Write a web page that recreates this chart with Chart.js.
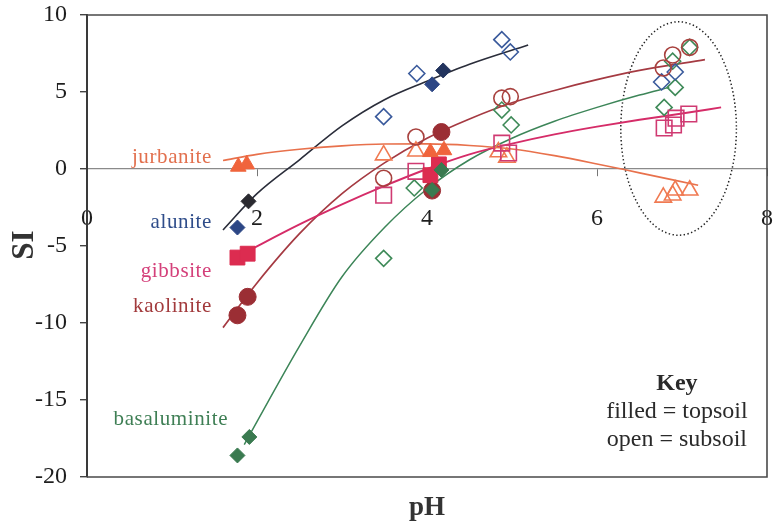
<!DOCTYPE html>
<html>
<head>
<meta charset="utf-8">
<script src="https://cdn.jsdelivr.net/npm/chart.js@4/dist/chart.umd.min.js"></script>
<style>
  html, body { margin: 0; padding: 0; background: #ffffff; }
  #wrap { width: 773px; height: 527px; position: relative; }
</style>
</head>
<body>
<div id="wrap"><canvas id="c"></canvas></div>
<script>
// Axis ticks
const xTicks = [0, 2, 4, 6, 8];
const yTicks = [-20, -15, -10, -5, 0, 5, 10];

// Saturation indices [pH, SI]; "Top" = topsoil (filled), "Sub" = subsoil (open)
const aluniteTop = [[1.77, -3.8], [1.90, -2.1], [4.06, 5.5], [4.19, 6.4]];
const aluniteSub = [[3.49, 3.4], [3.88, 6.2], [4.88, 8.4], [4.98, 7.6], [6.76, 5.65], [6.92, 6.3]];
const aluniteFit = [[1.6, -3.96], [2.0, -1.6], [2.5, 0.6], [3.0, 2.8], [3.5, 4.5], [4.0, 5.7], [4.5, 6.8], [5.19, 8.05]];

const jurbaniteTop = [[1.78, 0.15], [1.88, 0.3], [4.04, 1.1], [4.2, 1.22]];
const jurbaniteSub = [[3.49, 0.9], [3.87, 1.15], [4.84, 1.1], [4.94, 0.75], [6.78, -1.84], [6.89, -1.7], [6.92, -1.38], [7.09, -1.38]];
const jurbaniteFit = [[1.6, 0.55], [2.0, 0.95], [2.5, 1.28], [3.0, 1.5], [3.5, 1.62], [4.0, 1.63], [4.5, 1.53], [5.0, 1.3], [5.5, 0.87], [6.0, 0.33], [6.5, -0.25], [7.19, -1.05]];

const gibbsiteTop = [[1.77, -5.75], [1.89, -5.5], [4.04, -0.4], [4.14, 0.3]];
const gibbsiteSub = [[3.49, -1.7], [3.87, -0.15], [4.88, 1.68], [4.96, 1.04], [6.79, 2.66], [6.9, 2.86], [6.93, 3.3], [7.08, 3.57]];
const gibbsiteFit = [[1.85, -5.45], [2.5, -3.6], [3.0, -2.3], [3.5, -1.1], [4.0, 0.0], [4.5, 0.95], [5.0, 1.65], [5.5, 2.25], [6.0, 2.75], [6.5, 3.2], [7.0, 3.6], [7.46, 4.0]];

const kaoliniteTop = [[1.77, -9.5], [1.89, -8.3], [4.06, -1.4], [4.17, 2.4]];
const kaoliniteSub = [[3.49, -0.6], [3.87, 2.08], [4.88, 4.6], [4.98, 4.7], [6.78, 6.56], [6.89, 7.4], [7.09, 7.9]];
const kaoliniteFit = [[1.6, -10.3], [2.0, -7.4], [2.5, -4.2], [3.0, -1.6], [3.5, 0.4], [4.0, 2.0], [4.5, 3.25], [5.0, 4.3], [5.5, 5.1], [6.0, 5.8], [6.5, 6.4], [7.27, 7.1]];

const basaluminiteTop = [[1.77, -18.6], [1.91, -17.4], [4.06, -1.36], [4.17, -0.06]];
const basaluminiteSub = [[3.49, -5.8], [3.85, -1.23], [4.88, 3.83], [4.99, 2.86], [6.79, 4.0], [6.92, 5.3], [6.89, 7.0], [7.09, 7.9]];
const basaluminiteFit = [[1.85, -17.9], [2.0, -16.4], [2.5, -11.5], [3.0, -7.0], [3.5, -3.8], [4.0, -1.3], [4.5, 0.6], [5.0, 2.0], [5.5, 3.1], [6.0, 4.0], [6.5, 4.8], [6.85, 5.3]];

// Mineral names written beside the curves, with their anchor [pH, SI]
const mineralNames = ['jurbanite', 'alunite', 'gibbsite', 'kaolinite', 'basaluminite'];
const nameAnchors = [[1.47, 0.39], [1.47, -3.83], [1.47, -7.0], [1.47, -9.3], [1.66, -16.6]];
const nameColors = ['#e2704e', '#2f4d8a', '#d4407a', '#a23a3c', '#3f7f55'];

const keyLines = ['Key', 'filled = topsoil', 'open = subsoil'];

const SERIF = "'Liberation Serif', 'Times New Roman', serif";
Chart.defaults.font.family = SERIF;

// Sample markers are allowed to overhang the frame, so they should not widen the layout margins
Chart.ScatterController.prototype.getMaxOverflow = function () { return 2; };

const pts = arr => arr.map(([x, y]) => ({ x, y }));

function fitLine(data, color, width) {
  return {
    type: 'line', data: pts(data), borderColor: color, borderWidth: width,
    pointRadius: 0, fill: false, cubicInterpolationMode: 'monotone', order: 10
  };
}
function filled(data, style, color, radius, order) {
  return {
    type: 'scatter', data: pts(data), pointStyle: style, pointRadius: radius,
    pointBackgroundColor: color, pointBorderColor: color, pointBorderWidth: 1, order
  };
}
function open(data, style, color, radius, order) {
  return {
    type: 'scatter', data: pts(data), pointStyle: style, pointRadius: radius,
    pointBackgroundColor: 'rgba(255,255,255,0)', pointBorderColor: color, pointBorderWidth: 1.6, order
  };
}

const datasets = [
  fitLine(jurbaniteFit, '#e8714c', 1.6),
  fitLine(gibbsiteFit, '#d52c68', 1.9),
  fitLine(kaoliniteFit, '#a53a42', 1.7),
  fitLine(basaluminiteFit, '#3c8558', 1.5),
  fitLine(aluniteFit, '#2a2d3a', 1.6),

  open(kaoliniteSub, 'circle', '#a8413e', 8, 6),
  open(gibbsiteSub, 'rect', '#d03a72', 11, 6),
  open(jurbaniteSub, 'triangle', '#f07a52', 9.5, 6),
  open(aluniteSub, 'rectRot', '#3a5a9c', 8, 6),
  open(basaluminiteSub, 'rectRot', '#3e8a58', 8, 6),

  filled(kaoliniteTop, 'circle', '#9b2e34', 8.5, 5),
  filled(aluniteTop, 'rectRot', ['#2c4685', '#2a2a30', '#2c4685', '#23345e'], 7.5, 4),
  filled(gibbsiteTop, 'rect', '#dc2c50', 10.5, 3),
  filled(jurbaniteTop, 'triangle', '#f0643c', 9, 2),
  filled(basaluminiteTop, 'rectRot', '#3a7a50', 7.5, 1)
];

// Frame, dotted ellipse round the high-pH samples, and text annotations
const decorations = {
  id: 'decorations',
  beforeDatasetsDraw(chart) {
    const { ctx, chartArea: a, scales: { x, y } } = chart;
    ctx.save();
    // plot frame (top, right, bottom)
    ctx.strokeStyle = '#4a4a4a';
    ctx.lineWidth = 1.6;
    ctx.beginPath();
    ctx.moveTo(a.left, a.top); ctx.lineTo(a.right, a.top);
    ctx.lineTo(a.right, a.bottom); ctx.lineTo(a.left, a.bottom);
    ctx.stroke();
    // dotted ellipse
    const cx = x.getPixelForValue(6.96), cy = y.getPixelForValue(2.63);
    const rx = x.getPixelForValue(6.96 + 0.68) - cx;
    const ry = cy - y.getPixelForValue(2.63 + 6.93);
    ctx.setLineDash([1.4, 2.4]);
    ctx.strokeStyle = '#222';
    ctx.lineWidth = 1.5;
    ctx.beginPath();
    ctx.ellipse(cx, cy, rx, ry, 0, 0, Math.PI * 2);
    ctx.stroke();
    ctx.restore();
  },
  afterDraw(chart) {
    const { ctx, chartArea: a, scales: { x, y } } = chart;
    ctx.save();
    ctx.fillStyle = '#333';
    // axis titles
    ctx.font = `bold 27px ${SERIF}`;
    ctx.textAlign = 'center';
    ctx.textBaseline = 'alphabetic';
    ctx.fillText('pH', (a.left + a.right) / 2, 515);
    ctx.save();
    ctx.translate(33, 245);
    ctx.rotate(-Math.PI / 2);
    ctx.font = `bold 31px ${SERIF}`;
    ctx.fillText('SI', 0, 0);
    ctx.restore();
    // mineral names
    ctx.font = `21px ${SERIF}`;
    ctx.textAlign = 'right';
    if ('letterSpacing' in ctx) ctx.letterSpacing = '0.6px';
    mineralNames.forEach((name, i) => {
      ctx.fillStyle = nameColors[i];
      ctx.fillText(name, x.getPixelForValue(nameAnchors[i][0]), y.getPixelForValue(nameAnchors[i][1]));
    });
    if ('letterSpacing' in ctx) ctx.letterSpacing = '0px';
    // key
    ctx.textAlign = 'center';
    ctx.fillStyle = '#2a2a2a';
    const kx = x.getPixelForValue(6.94);
    ctx.font = `bold 24px ${SERIF}`;
    ctx.fillText(keyLines[0], kx, 390);
    ctx.font = `24px ${SERIF}`;
    ctx.fillText(keyLines[1], kx, 418);
    ctx.fillText(keyLines[2], kx, 446);
    ctx.restore();
  }
};

new Chart(document.getElementById('c'), {
  data: { datasets },
  options: {
    responsive: true,
    maintainAspectRatio: false,
    animation: false,
    layout: { padding: { left: 0, top: 15, right: 6, bottom: 50 } },
    plugins: { legend: { display: false }, tooltip: { enabled: false } },
    scales: {
      x: {
        type: 'linear', min: 0, max: 8,
        position: { y: 0 },
        afterBuildTicks: s => { s.ticks = xTicks.map(v => ({ value: v })); },
        afterFit: s => { s.paddingLeft = 0; s.paddingRight = 0; s.paddingTop = 0; s.paddingBottom = 0; },
        border: { display: true, color: '#8a8a8a', width: 1.2 },
        grid: { drawOnChartArea: false, drawTicks: true, tickLength: 7, color: '#777', lineWidth: 1 },
        ticks: { font: { size: 24, family: SERIF }, color: '#1e1e1e', padding: 28, maxRotation: 0 }
      },
      y: {
        type: 'linear', min: -20, max: 10,
        position: 'left',
        afterBuildTicks: s => { s.ticks = yTicks.map(v => ({ value: v })); },
        afterFit: s => { s.width = 87; s.paddingTop = 0; s.paddingBottom = 0; s.paddingLeft = 0; s.paddingRight = 0; },
        border: { display: true, color: '#3a3a3a', width: 2 },
        grid: { drawOnChartArea: false, drawTicks: true, tickLength: 7, color: '#444', lineWidth: 1.4 },
        ticks: { font: { size: 24, family: SERIF }, color: '#1e1e1e', padding: 13 }
      }
    }
  },
  plugins: [decorations]
});
</script>
</body>
</html>
